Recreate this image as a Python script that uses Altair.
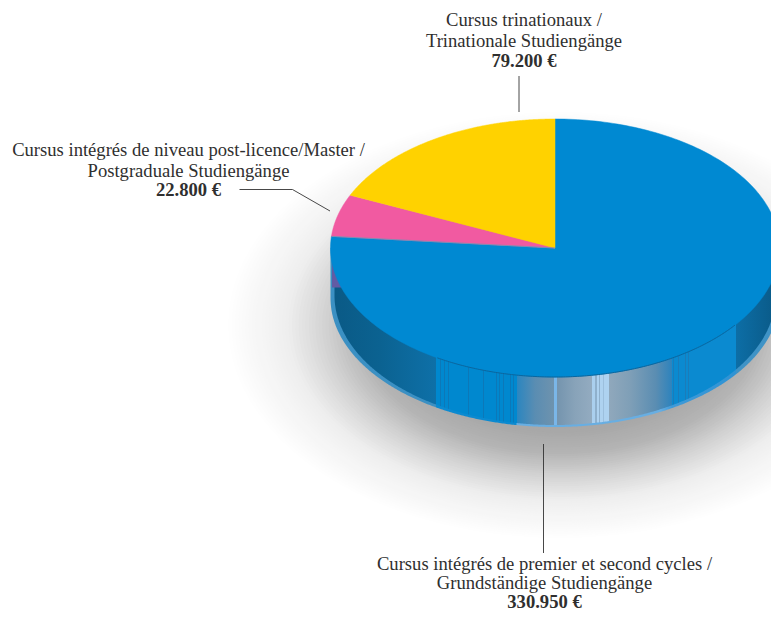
import altair as alt
import numpy as np
import pandas as pd

# ---- chart values ----
slice_names = ["Cursus intégrés de premier et second cycles", "Cursus intégrés de niveau post-licence/Master", "Cursus trinationaux"]
slice_values = [330950, 22800, 79200]
slice_colors = ["#0089d2", "#f15aa1", "#ffd200"]

# ---- layout of the picture ----
W, H = 763, 603
CX, CY, RX, RY = 555.0, 248.0, 224.5, 129.0
OUT_CY, OUT_RY = 298.0, 129.0
IN_CY, IN_RY, IN_RX = 295.5, 129.5, 220.5
FONT = "Liberation Serif"
INK = "#2f2f2f"

xs = alt.X("x:Q", scale=alt.Scale(domain=[8, 8 + W]), axis=None)
ys = alt.Y("y:Q", scale=alt.Scale(domain=[8, 8 + H], reverse=True), axis=None)


def stops(points, x0, x1):
    out = []
    for px, col in points:
        off = min(max((px - x0) / (x1 - x0), 0), 1)
        out.append(alt.GradientStop(offset=float(off), color=col))
    return alt.LinearGradient(gradient="linear", x1=0, x2=1, y1=0, y2=0, stops=out)


def striped(x_from, x_to, base, line, positions, w=1.0):
    pts = [(x_from, base)]
    for p in positions:
        pts += [(p, base), (p, line), (p + w, line), (p + w, base)]
    pts.append((x_to, base))
    return pts


# ---- shadow: concentric ellipses, outermost first ----
SH_CX, SH_CY, SH_RX, SH_RY = 560.0, 325.0, 335.0, 215.0
shade_at = [0.0, 0.5, 0.6, 0.7, 0.82, 1.0]
shade_val = [143, 168, 180, 209, 238, 255]
angles = np.linspace(np.pi, 0, 120)
shadow_layers = []
for f in np.linspace(1.0, 0.45, 56):
    g = int(round(np.interp(f, shade_at, shade_val)))
    ring = pd.DataFrame({
        "x": SH_CX + f * SH_RX * np.cos(angles),
        "y": SH_CY - f * SH_RY * np.sin(angles),
        "y2": SH_CY + f * SH_RY * np.sin(angles),
    })
    shadow_layers.append(
        alt.Chart(ring).mark_area(fill=f"#{g:02x}{g:02x}{g:02x}", clip=True).encode(x=xs, y=ys, y2="y2:Q")
    )


# ---- side wall ----
def wall_frame(cy, ry, rx):
    t = np.linspace(np.pi, 0, 500)
    return pd.DataFrame({"x": CX + rx * np.cos(t), "y": CY, "y2": cy + ry * np.sin(t)})


rim_pts = [(331, "#3b90c3"), (436, "#3b90c3"), (436.5, "#0c8ad0"), (516, "#0c8ad0"), (517, "#68aee2"),
           (660, "#68aee2"), (672, "#3f9ad8"), (735.5, "#2f93d4"), (736, "#3f93c6"), (779.5, "#3f93c6")]
rim = alt.Chart(wall_frame(OUT_CY, OUT_RY, RX)).mark_area(
    fill=stops(rim_pts, CX - RX, CX + RX), clip=True
).encode(x=xs, y=ys, y2="y2:Q")

wall_pts = [(334, "#0a5a86"), (380, "#0b6291"), (436.4, "#0e70a8")]
wall_pts += striped(436.5, 517, "#0088cf", "#0c78b8",
                    [436.7, 440, 444.3, 448.3, 468, 483.3, 486.7, 491.7, 496, 499.3, 503.3, 506.7, 510, 513.3], w=0.7)
wall_pts += [(517, "#2b86c0"), (535, "#5a8db2"), (554.5, "#6f93ae"), (554.5, "#7ab6e8"), (556.8, "#7ab6e8"),
             (556.8, "#7494ae"), (575, "#88a3b9"), (591.5, "#93abc0"),
             (591.5, "#aacfee"), (595, "#aacfee"), (595, "#8fb0cc"), (596.5, "#8fb0cc"), (596.5, "#aed2f0"),
             (599, "#aed2f0"), (599, "#8fb0cc"), (600, "#8fb0cc"), (600, "#aed2f0"), (603, "#aed2f0"),
             (603, "#9cbfdd"), (604, "#9cbfdd"), (604, "#aed2f0"), (609, "#aed2f0"), (609, "#90a8bc"),
             (630, "#7f9fb7"), (656, "#5a8db2"), (672, "#2d83bd")]
wall_pts += striped(672.5, 735.5, "#0b8ad0", "#1a7cba",
                    [673.3, 675.7, 678.3, 682.7, 685, 688.3, 696.7, 700.7, 712.7], w=0.7)
wall_pts += [(735.8, "#0d6ea6"), (775.5, "#0a5a88")]
wall = alt.Chart(wall_frame(IN_CY, IN_RY, IN_RX)).mark_area(
    fill=stops(wall_pts, CX - IN_RX, CX + IN_RX), clip=True
).encode(x=xs, y=ys, y2="y2:Q")

# side of the pink slice, seen at the far left
side_x = np.linspace(CX - RX + 1.5, 342.5, 12)
side_pink = alt.Chart(pd.DataFrame({"x": side_x, "y": 248.0, "y2": 287.5})).mark_area(
    color="#625ca4", clip=True
).encode(x=xs, y=ys, y2="y2:Q")

# ---- top face: slices built from the values ----
frames = []
total = sum(slice_values)
start = 0.0
edges = []
for i, (name, v) in enumerate(zip(slice_names, slice_values)):
    end = start + v / total * 2 * np.pi
    a = np.linspace(start, end, 240)
    px = np.r_[CX, CX + RX * np.sin(a), CX]
    py = np.r_[CY, CY - RY * np.cos(a), CY]
    frames.append(pd.DataFrame({"x": px, "y": py, "i": np.arange(len(px)), "name": name, "col": slice_colors[i]}))
    edges.append(end)
    start = end

top_layers = [
    alt.Chart(f).mark_line(fill=f["col"].iloc[0], stroke=f["col"].iloc[0], strokeWidth=0.5, clip=True).encode(
        x=xs, y=ys, order="i:Q"
    )
    for f in frames
]

# thin grey seam between the blue and pink slices
edge_df = pd.DataFrame({
    "x": [CX + RX * np.sin(edges[0]), CX],
    "y": [CY - RY * np.cos(edges[0]), CY],
    "i": [0, 1],
})
edge_line = alt.Chart(edge_df).mark_line(color="#7a8fb4", strokeWidth=0.9, clip=True).encode(x=xs, y=ys, order="i:Q")

# dark seam under the top face
t = np.linspace(0, np.pi, 300)
seam_df = pd.DataFrame({"x": CX + RX * np.cos(t), "y": CY + RY * np.sin(t)})
seam_df = seam_df[(seam_df.x > 437) & (seam_df.x < 736)]
seam = alt.Chart(seam_df.assign(i=range(len(seam_df)))).mark_line(color="#0b669e", strokeWidth=1, clip=True).encode(
    x=xs, y=ys, order="i:Q"
)

# ---- leader lines ----
leaders = [
    [(519, 76), (519, 112)],
    [(239.5, 189.5), (292.5, 189.5), (330, 211)],
    [(543.5, 444), (543.5, 553)],
]
leader_layers = [
    alt.Chart(pd.DataFrame({"x": [p[0] for p in l], "y": [p[1] for p in l], "i": range(len(l))}))
    .mark_line(color="#333333", strokeWidth=0.9)
    .encode(x=xs, y=ys, order="i:Q")
    for l in leaders
]

# ---- labels ----
labels = [
    (524, 26, "Cursus trinationaux /", "normal"),
    (524, 47, "Trinationale Studiengänge", "normal"),
    (524, 66.5, "79.200 €", "bold"),
    (188.5, 156, "Cursus intégrés de niveau post-licence/Master /", "normal"),
    (188.5, 177, "Postgraduale Studiengänge", "normal"),
    (188.5, 196, "22.800 €", "bold"),
    (544.5, 570, "Cursus intégrés de premier et second cycles /", "normal"),
    (544.5, 589, "Grundständige Studiengänge", "normal"),
    (544.5, 607.5, "330.950 €", "bold"),
]
lab = pd.DataFrame(labels, columns=["x", "y", "t", "w"])
text_normal = alt.Chart(lab[lab.w == "normal"]).mark_text(
    font=FONT, fontSize=18.6, color=INK, align="center", baseline="alphabetic"
).encode(x=xs, y=ys, text="t:N")
text_bold = alt.Chart(lab[lab.w == "bold"]).mark_text(
    font=FONT, fontSize=18.6, fontWeight="bold", color=INK, align="center", baseline="alphabetic"
).encode(x=xs, y=ys, text="t:N")

chart = alt.layer(
    *shadow_layers, *leader_layers, rim, wall, side_pink, *top_layers, edge_line, seam, text_normal, text_bold
).properties(
    width=W, height=H, padding=0, autosize=alt.AutoSizeParams(type="none"), background="#ffffff"
).configure_view(stroke=None)

chart.save("out.html", embed_options={"renderer": "svg", "actions": False})
